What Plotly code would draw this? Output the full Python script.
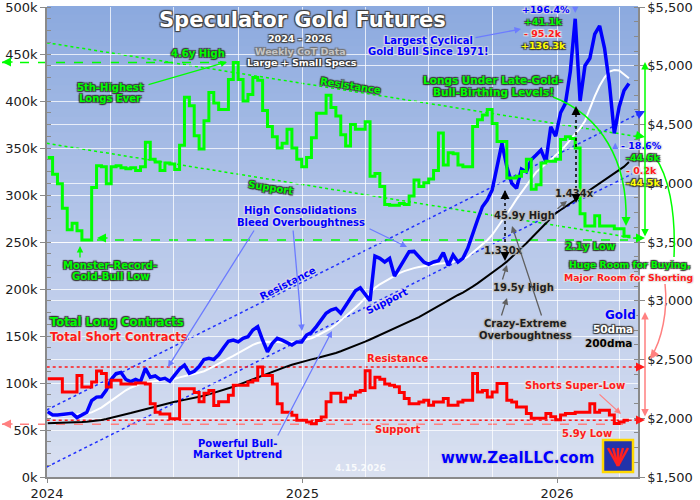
import plotly.graph_objects as go
import pandas as pd

# weekly CoT report dates (Tuesdays), Jan 2024 through the 4.14.2026 report
cot_dates = pd.date_range("2024-01-02", periods=120, freq="7D")

# total spec longs / shorts, thousands of contracts
longs_k = [
    340, 322, 312, 286, 263, 270, 262, 252, 252, 308,
    331, 330, 312, 330, 331, 329, 328, 329, 326, 330,
    356, 338, 335, 326, 334, 333, 327, 353, 404, 395,
    363, 349, 379, 409, 398, 391, 391, 423, 441, 423,
    400, 407, 425, 422, 390, 373, 362, 350, 355, 370,
    350, 338, 330, 340, 361, 387, 387, 406, 393, 384,
    364, 352, 375, 370, 370, 378, 320, 323, 309, 290,
    289, 289, 291, 290, 299, 316, 309, 313, 317, 326,
    366, 332, 345, 344, 332, 330, 330, 373, 380, 385,
    391, 376, 357, 357, 318, 318, 320, 325, 338, 306,
    311, 334, 336, 336, 338, 359, 362, 360, 350, 280,
    267, 267, 278, 267, 267, 267, 264, 264, 256, 254,
]
shorts_k = [
    104.6, 104.6, 104.6, 90.4, 90.4, 90.4, 108, 95.7, 95.7, 101,
    112.8, 110, 95.7, 103, 103, 99, 99, 99, 100, 100,
    99, 78, 69, 67, 67, 62, 62, 94, 94, 94,
    90, 80, 89, 92, 76, 80, 80, 87, 97.5, 97.5,
    97.5, 101, 103, 117, 108, 108, 99, 78, 69, 69,
    65.6, 60.3, 60.3, 58.5, 56.7, 60, 63.8, 80, 89, 89,
    80, 84, 87, 90.4, 92, 113, 95, 106, 104, 99,
    97.5, 96, 90, 83.5, 78, 78, 79.8, 81.6, 76.3, 79.8,
    79.8, 83.5, 76.3, 76.3, 79.8, 81.6, 81.6, 110, 90.4, 92,
    85, 90.4, 99.6, 99.6, 81.6, 79.8, 74.5, 74.5, 67.6, 62.5,
    62.5, 62.5, 67.6, 64, 61, 66, 67.6, 67.6, 69, 69,
    69, 78, 69, 71, 71, 66, 57, 58.6, 60.4, 60.4,
]

# gold, $/oz
gold = [
    2056, 2028, 2028, 2035, 2035, 2042, 2005, 2030, 2050, 2150,
    2180, 2183, 2240, 2330, 2380, 2390, 2330, 2311, 2330, 2311,
    2425, 2350, 2360, 2330, 2340, 2315, 2370, 2420, 2453, 2383,
    2400, 2440, 2500, 2510, 2500, 2540, 2600, 2655, 2666, 2650,
    2680, 2694, 2751, 2779, 2666, 2566, 2637, 2680, 2665, 2640,
    2623, 2650, 2650, 2708, 2730, 2780, 2836, 2893, 2921, 2935,
    2893, 2960, 3020, 3085, 3110, 3050, 3000, 3380, 3361, 3330,
    3360, 3210, 3280, 3361, 3418, 3420, 3380, 3330, 3310, 3330,
    3340, 3410, 3300, 3389, 3330, 3361, 3446, 3574, 3687, 3800,
    3857, 3943, 4141, 4340, 4141, 4000, 3957, 4120, 4098, 4200,
    4240, 4283, 4184, 4480, 4400, 4600, 4680, 4950, 5400, 4700,
    5000, 5064, 5270, 5340, 5150, 4850, 4425, 4650, 4790, 4850,
]
gold_50dma = [
    2010, 2015, 2020, 2025, 2028, 2030, 2032, 2035, 2040, 2050,
    2068, 2090, 2120, 2150, 2180, 2210, 2238, 2260, 2278, 2292,
    2303, 2311, 2316, 2320, 2324, 2328, 2336, 2348, 2360, 2368,
    2376, 2385, 2400, 2420, 2444, 2465, 2487, 2510, 2530, 2555,
    2580, 2605, 2625, 2640, 2650, 2652, 2652, 2648, 2645, 2645,
    2648, 2652, 2660, 2668, 2680, 2700, 2720, 2740, 2765, 2795,
    2830, 2862, 2900, 2940, 2980, 3025, 3070, 3110, 3140, 3165,
    3190, 3215, 3235, 3252, 3268, 3278, 3288, 3296, 3303, 3310,
    3315, 3319, 3323, 3330, 3340, 3350, 3375, 3410, 3445, 3480,
    3515, 3560, 3620, 3680, 3730, 3800, 3865, 3920, 3980, 4040,
    4095, 4130, 4165, 4200, 4235, 4275, 4320, 4370, 4420, 4470,
    4530, 4640, 4740, 4830, 4900, 4950, 4964, 4960, 4930, 4893,
]
gold_200dma = [
    1957, 1958, 1959, 1960, 1962, 1964, 1966, 1968, 1971, 1975,
    1980, 1986, 1994, 2003, 2012, 2022, 2033, 2044, 2056, 2067,
    2078, 2089, 2100, 2111, 2122, 2131, 2140, 2148, 2156, 2164,
    2172, 2181, 2192, 2203, 2215, 2227, 2240, 2253, 2268, 2284,
    2300, 2316, 2333, 2350, 2367, 2383, 2398, 2413, 2427, 2441,
    2455, 2468, 2481, 2491, 2501, 2511, 2521, 2532, 2544, 2556,
    2570, 2585, 2600, 2617, 2634, 2652, 2670, 2689, 2708, 2726,
    2744, 2762, 2780, 2799, 2817, 2836, 2860, 2884, 2908, 2933,
    2958, 2982, 3006, 3028, 3049, 3070, 3092, 3120, 3148, 3177,
    3210, 3240, 3270, 3300, 3333, 3370, 3410, 3450, 3490, 3530,
    3575, 3617, 3660, 3702, 3744, 3772, 3800, 3828, 3857, 3886,
    3914, 3943, 3970, 3998, 4026, 4052, 4080, 4110, 4141, 4180,
]

# levels marked on the chart (thousands of contracts)
longs_high_k, longs_low_k = 441, 252
shorts_res_k, shorts_sup_k, shorts_low_k = 117, 60.4, 56

GREEN, RED, BLUE, YELLOW = "#00ff00", "#ff1a1a", "#0000ff", "#ffff00"
PINK, LBLUE = "#ff8080", "#6c7cff"
FONT = "DejaVu Sans"

# picture geometry, used to place the overlay text and guides
W, H = 700, 500
L, R, T, B = 47, 62, 7, 23
PW, PH = W - L - R, H - T - B


def pp(x, y):
    return (x - L) / PW, (H - B - y) / PH


def outline(c):
    return f"-1px -1px 1px {c}, 1px -1px 1px {c}, -1px 1px 1px {c}, 1px 1px 1px {c}"


fig = go.Figure()

fig.add_trace(go.Scatter(x=cot_dates, y=gold_200dma, yaxis="y", mode="lines",
                         line=dict(color="black", width=2)))
fig.add_trace(go.Scatter(x=cot_dates, y=gold_50dma, yaxis="y", mode="lines",
                         line=dict(color="white", width=2)))
fig.add_trace(go.Scatter(x=cot_dates, y=gold, yaxis="y", mode="lines",
                         line=dict(color=BLUE, width=3.5)))
fig.add_trace(go.Scatter(x=cot_dates, y=shorts_k, yaxis="y2", mode="lines",
                         line=dict(color="#ff0000", width=3, shape="hv")))
fig.add_trace(go.Scatter(x=cot_dates, y=longs_k, yaxis="y2", mode="lines",
                         line=dict(color=GREEN, width=3, shape="hv")))

shapes = []

# background gradient, blue at the top fading to pale at the bottom
stops = [(0.0, (218, 225, 241)), (0.5, (184, 200, 234)), (1.0, (140, 170, 223))]
nb = 60
for k in range(nb):
    f = (k + 0.5) / nb
    (f0, c0), (f1, c1) = (stops[0], stops[1]) if f < 0.5 else (stops[1], stops[2])
    t = (f - f0) / (f1 - f0)
    col = tuple(int(c0[j] + (c1[j] - c0[j]) * t) for j in range(3))
    shapes.append(dict(type="rect", xref="paper", yref="paper", x0=0, x1=1,
                       y0=k / nb, y1=(k + 1) / nb + 0.002, layer="below",
                       line=dict(width=0), fillcolor="rgb(%d,%d,%d)" % col))


def seg(p0, p1, color, dash="dot", width=1.5, layer="between"):
    (x0, y0), (x1, y1) = pp(*p0), pp(*p1)
    shapes.append(dict(type="line", xref="paper", yref="paper", x0=x0, y0=y0,
                       x1=x1, y1=y1, layer=layer,
                       line=dict(color=color, width=width, dash=dash)))


def hlevel(v, xa, xb, color, dash):
    shapes.append(dict(type="line", xref="paper", yref="y2", x0=pp(xa, 0)[0],
                       x1=pp(xb, 0)[0], y0=v, y1=v, layer="between",
                       line=dict(color=color, width=1.5, dash=dash)))


def curve(path_pts, color, width=1.5):
    a = [pp(*p) for p in path_pts]
    d = "M %f,%f C %f,%f %f,%f %f,%f" % (a[0] + a[1] + a[2] + a[3])
    shapes.append(dict(type="path", xref="paper", yref="paper", path=d,
                       line=dict(color=color, width=width)))


# trend channels
seg((46.7, 42.7), (640, 137), GREEN)
seg((46.7, 143.3), (640, 239), GREEN)
seg((46.7, 410), (640, 113), "#2030ff")
seg((46.7, 467), (632, 174), "#2030ff")

# horizontal levels
hlevel(longs_high_k, 2, 226, GREEN, "dash")
hlevel(longs_low_k, 97, 640, GREEN, "dash")
hlevel(shorts_res_k, 46.7, 640, RED, "dot")
hlevel(shorts_sup_k, 46.7, 640, RED, "dot")
hlevel(shorts_low_k, 2, 626, PINK, "dash")

# dotted spreads between gold and its 200dma
seg((505, 191), (505, 259), "black", "dot", 1.5, "above")
seg((576, 108), (576, 201), "black", "dot", 1.5, "above")

# curved pointers
curve([(553, 97), (600, 115), (628, 160), (626, 222)], GREEN)
curve([(655, 157), (668, 175), (676, 210), (674, 257)], GREEN)
curve([(665, 284), (668, 310), (662, 340), (651, 357)], PINK)

# logo box
lx0, ly0 = pp(603, 472)
lx1, ly1 = pp(633, 440)
shapes.append(dict(type="rect", xref="paper", yref="paper", x0=lx0, y0=ly0,
                   x1=lx1, y1=ly1, fillcolor="#2233aa",
                   line=dict(color="#ffd800", width=2.5)))
for fx in (608, 613, 618, 623, 628):
    (ax0, ay0), (ax1, ay1) = pp(618, 466), pp(fx, 448)
    shapes.append(dict(type="line", xref="paper", yref="paper", x0=ax0, y0=ay0,
                       x1=ax1, y1=ay1, line=dict(color="#ff2020", width=2.5)))

annotations = []


def label(text, x, y, color, size=10, edge="#383838", angle=0, weight=700):
    xp, yp = pp(x, y)
    annotations.append(dict(
        text=text, x=xp, y=yp, xref="paper", yref="paper", showarrow=False,
        xanchor="center", yanchor="middle", textangle=angle,
        font=dict(family=FONT, size=size, color=color, weight=weight,
                  shadow=outline(edge) if edge else "none")))


def arrow(tail, head, color, width=1.3, size=1.0, side="end", style=2):
    xp, yp = pp(*head)
    annotations.append(dict(
        text="", x=xp, y=yp, xref="paper", yref="paper", showarrow=True,
        ax=tail[0] - head[0], ay=tail[1] - head[1], arrowhead=style,
        arrowsize=size, arrowwidth=width, arrowcolor=color, arrowside=side,
        standoff=0, startstandoff=0))


def tip(head, frm, color):
    # bare arrowhead at the end of a guide line
    arrow(frm, head, color, 1.5, 1.2)


# title block
label("Speculator Gold Futures", 302, 20, "white", 21, "#404040")
label("2024 - 2026", 300, 39, "white", 9.5, "#404040")
label("Weekly CoT Data", 300, 51, "#c4c4c4", 9.5, "#707070")
label("Large + Small Specs", 302, 63, "white", 9.5, "#303030")

# longs notes
label("4.6y High", 198, 53, GREEN)
label("5th-Highest", 110, 87, GREEN)
label("Longs Ever", 110, 99, GREEN)
label("Resistance", 350, 85, GREEN, 10, "#383838", 9)
label("Support", 270, 188, GREEN, 10, "#383838", 9)
label("Monster-Record-", 110, 265, GREEN)
label("Gold-Bull Low", 110, 276, GREEN)
label("Total Long Contracts", 117, 322, GREEN, 11.5)
label("Total Short Contracts", 119, 337, RED, 11.5, "#e4e4e4")
label("Longs Under Late-Gold-", 493, 80, GREEN, 10.5)
label("Bull-Birthing Levels!", 493, 92, GREEN, 10.5)
label("2.1y Low", 590, 246, GREEN)
label("Huge Room for Buying,", 629, 264, GREEN, 9.3)
label("Major Room for Shorting", 628, 277, RED, 9.3, "#e4e4e4")

# gold notes
label("High Consolidations", 300, 210, BLUE, 10, "#d8d8e4")
label("Bleed Overboughtness", 301, 222, BLUE, 10, "#d8d8e4")
label("Resistance", 287, 283, BLUE, 10, "#d8d8e4", -27)
label("Support", 386, 301, BLUE, 10, "#d8d8e4", -27)
label("Powerful Bull-", 237, 443, BLUE, 10, "#d8d8e4")
label("Market Uptrend", 237, 454, BLUE, 10, "#d8d8e4")
label("Largest Cyclical", 428, 40, BLUE, 10, "#d8d8e4")
label("Gold Bull Since 1971!", 428, 52, BLUE, 10, "#d8d8e4")
label("+196.4%", 546, 9, BLUE, 9.5, "#d8d8e4")
label("▼", 575, 9, LBLUE, 8, None)
label("+41.1k", 543, 21.5, GREEN, 9.5)
label("- 95.2k", 543, 33.5, RED, 9.5, "#e4e4e4")
label("+136.3k", 543, 45.5, YELLOW, 9.5)
label("▲", 615, 145, LBLUE, 8, None)
label("- 18.6%", 641, 145.5, BLUE, 9.5, "#d8d8e4")
label("-44.6k", 643, 157.5, GREEN, 9.5)
label("- 0.2k", 641, 170, RED, 9.5, "#e4e4e4")
label("-44.5k", 643, 182.5, YELLOW, 9.5)

# overboughtness notes
GREYTXT, GREYEDGE = "#1e1e1e", "#bcbcbc"
label("1.434x", 574, 194, GREYTXT, 10, GREYEDGE)
label("45.9y High", 524, 215, GREYTXT, 10, GREYEDGE)
label("1.330x", 503, 250, GREYTXT, 10, GREYEDGE)
label("19.5y High", 523, 287, GREYTXT, 10, GREYEDGE)
label("Crazy-Extreme", 525, 323, GREYTXT, 10, GREYEDGE)
label("Overboughtness", 525, 335, GREYTXT, 10, GREYEDGE)

# series key
label("Gold", 620, 315, BLUE, 12, "#d8d8e4")
label("50dma", 613, 329, "white", 10.5, "#383838")
label("200dma", 608, 343, "black", 10.5, "#c4c4c4")

# shorts notes
label("Resistance", 397, 358, RED, 10, "#e4e4e4")
label("Support", 397, 429, RED, 10, "#e4e4e4")
label("Shorts Super-Low", 575, 385, RED, 10, "#e4e4e4")
label("5.9y Low", 587, 433, RED, 10, "#e4e4e4")

label("4.15.2026", 360, 468, "rgba(255,255,255,0.85)", 9, None)
label("www.ZealLLC.com", 517, 458, BLUE, 15, "#d0d0dc")

# pointers
arrow((147, 85), (227, 62), GREEN)
arrow((80, 259), (80, 246), GREEN)
arrow((255, 229), (168, 367), LBLUE)
arrow((293, 229), (302, 331), LBLUE)
arrow((368, 228), (407, 247), LBLUE)
arrow((277, 437), (332, 331), LBLUE)
arrow((474, 38), (521, 29), LBLUE)
arrow((556, 210), (567, 201), "#606060")
arrow((502, 281), (507, 265), "#606060")
arrow((501, 317), (507, 298), "#606060")
arrow((542, 317), (512, 226), "#606060")
arrow((598, 393), (621, 414), PINK)
arrow((645, 238), (645, 62), GREEN, 1.5, 1.0, "end+start")
arrow((645, 418), (645, 312), PINK, 1.5, 1.0, "end+start")

# arrowheads ending the guide lines
tip((2, 62), (14, 62), GREEN)
tip((97, 238), (109, 238), GREEN)
tip((645, 238), (633, 238), GREEN)
tip((645, 137), (634, 135), GREEN)
tip((645, 111), (635, 116), "#2030ff")
tip((645, 367), (633, 367), RED)
tip((645, 420), (633, 420), RED)
tip((2, 424), (14, 424), PINK)
tip((626, 226), (626, 216), GREEN)
tip((650, 359), (656, 351), PINK)
tip((505, 190), (505, 198), "black")
tip((505, 261), (505, 253), "black")
tip((576, 106), (576, 114), "black")
tip((576, 203), (576, 195), "black")

AX = "#8a8a8a"
fig.update_layout(
    width=W, height=H,
    margin=dict(l=L, r=R, t=T, b=B, autoexpand=False),
    paper_bgcolor="white", plot_bgcolor="rgba(0,0,0,0)",
    showlegend=False,
    font=dict(family=FONT, size=13, color="#202020"),
    xaxis=dict(range=["2024-01-01", "2026-04-27"], tick0="2024-01-01",
               dtick="M12", tickformat="%Y", showgrid=True, automargin=False,
               ticklabeloverflow="allow",
               gridcolor="rgba(255,255,255,0.75)", gridwidth=1,
               minor=dict(dtick="M3", showgrid=True,
                          gridcolor="rgba(255,255,255,0.75)"),
               showline=True, linecolor=AX, linewidth=1.5, ticks="outside",
               ticklen=4, tickcolor=AX, zeroline=False,
               tickfont=dict(size=13, color="#202020")),
    yaxis=dict(range=[1500, 5500], dtick=500, tick0=1500, side="right",
               tickprefix="$", tickformat=",", showgrid=True, automargin=False,
               ticklabeloverflow="allow",
               gridcolor="rgba(255,255,255,0.75)", showline=True,
               linecolor=AX, linewidth=1.5, ticks="outside", ticklen=5,
               tickcolor=AX, zeroline=False,
               minor=dict(dtick=125, ticks="inside", ticklen=4, tickcolor=AX),
               tickfont=dict(size=13, color="#202020")),
    yaxis2=dict(range=[0, 500], dtick=50, tick0=0, side="left",
                overlaying="y", ticksuffix="k", showgrid=True,
                automargin=False, ticklabeloverflow="allow",
                gridcolor="rgba(255,255,255,0.75)", showline=True,
                linecolor=AX, linewidth=1.5, ticks="outside", ticklen=5,
                tickcolor=AX, zeroline=False,
                minor=dict(dtick=12.5, ticks="inside", ticklen=4, tickcolor=AX),
                tickfont=dict(size=13, color="#202020")),
    shapes=shapes,
    annotations=annotations,
)

# page body margin off so the 700x500 figure sits at the window corner
fig.write_html("out.html", config={"displayModeBar": False},
               post_script="document.body.style.margin='0px';")
